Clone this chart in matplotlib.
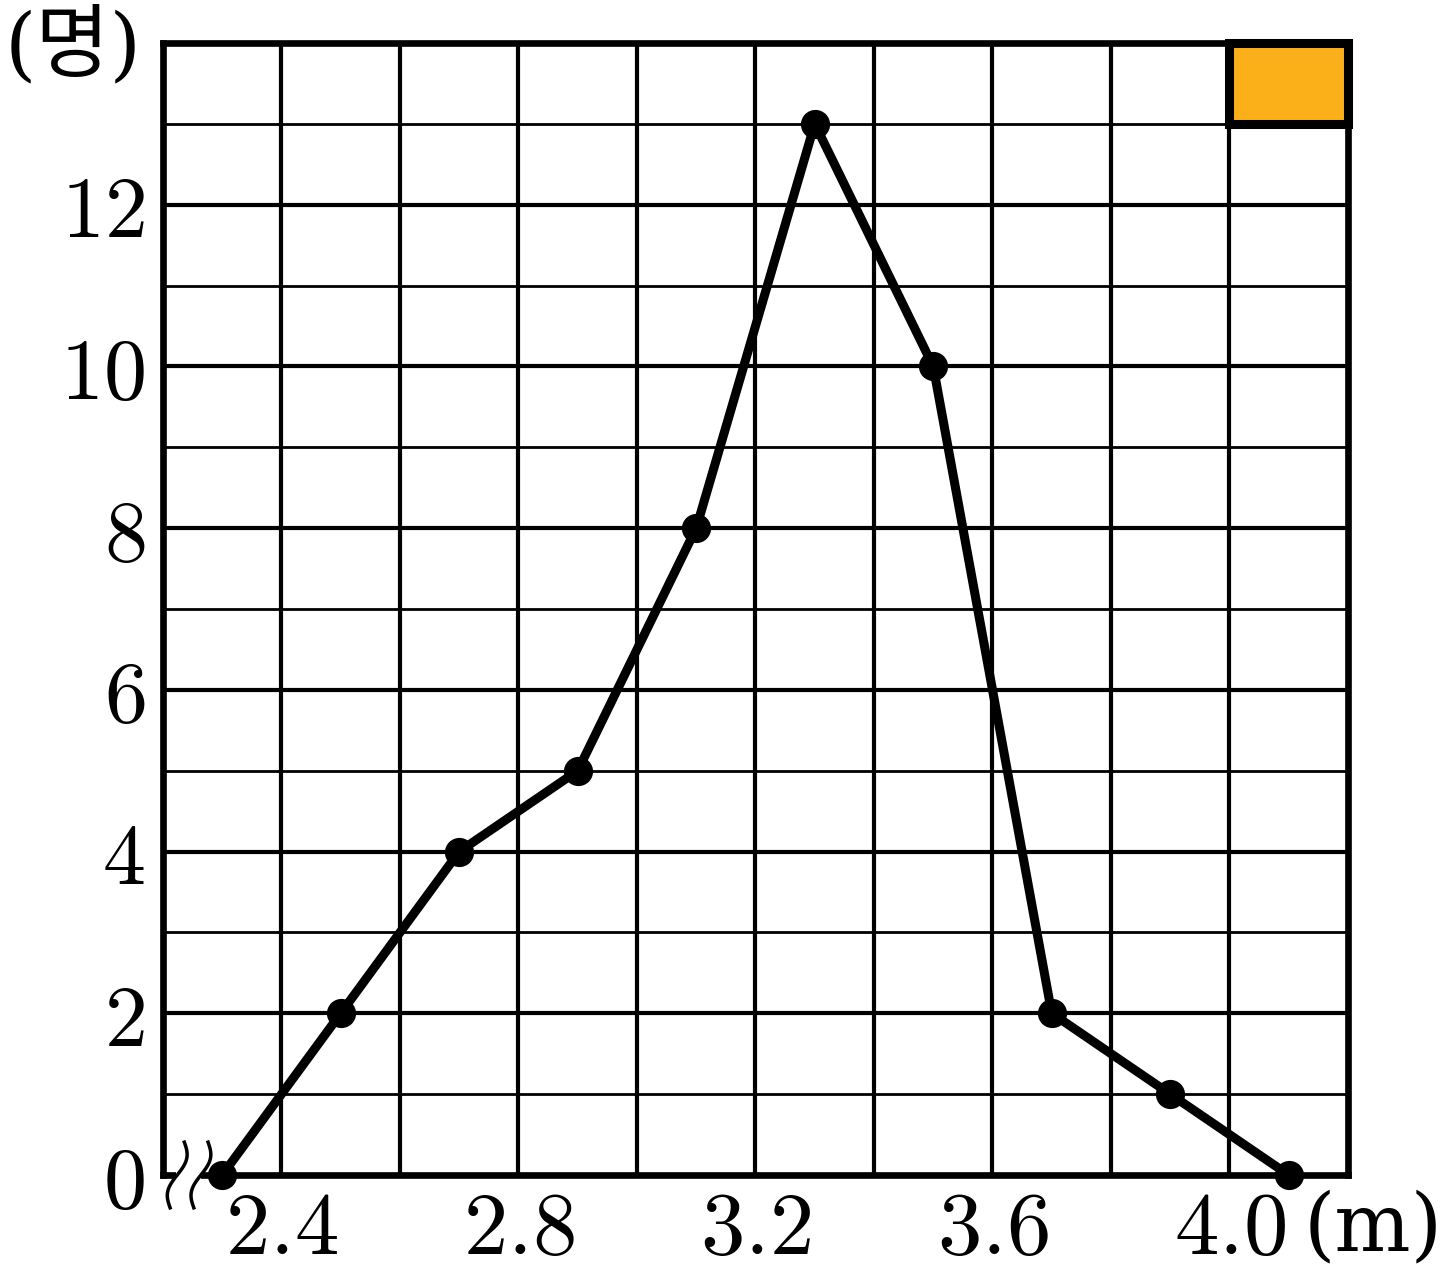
import numpy as np
import matplotlib.pyplot as plt
from matplotlib.patches import Rectangle

plt.rcParams['mathtext.fontset'] = 'cm'
plt.rcParams['font.family'] = ['DejaVu Serif', 'Noto Sans CJK KR']

# frequency polygon data (class midpoints, counts)
heights = [2.3, 2.5, 2.7, 2.9, 3.1, 3.3, 3.5, 3.7, 3.9, 4.1]
counts = [0, 2, 4, 5, 8, 13, 10, 2, 1, 0]

x_labels = ['2.4', '2.8', '3.2', '3.6', '4.0']
y_labels = [0, 2, 4, 6, 8, 10, 12]

fig = plt.figure(figsize=(14.46, 12.84), dpi=100)
ax = fig.add_axes([163 / 1446, 109 / 1284, 1185 / 1446, 1132 / 1284])

ax.set_xlim(2.2, 4.2)
ax.set_ylim(0, 14)

# grid
ax.set_xticks([float(v) for v in x_labels])
ax.set_xticklabels(['$%s$' % v for v in x_labels])
ax.set_xticks(np.arange(2.2, 4.21, 0.2), minor=True)
ax.set_yticks(y_labels)
ax.set_yticklabels(['$%d$' % v for v in y_labels])
ax.set_yticks(np.arange(0, 15, 1), minor=True)
ax.tick_params(which='both', length=0)
ax.tick_params(axis='x', labelsize=64, pad=8)
ax.tick_params(axis='y', labelsize=62, pad=13)
ax.grid(axis='x', which='both', color='black', lw=3.0)
ax.grid(axis='y', which='major', color='black', lw=3.0)
ax.grid(axis='y', which='minor', color='black', lw=2.0)
ax.set_axisbelow(True)
for s in ax.spines.values():
    s.set_linewidth(4.8)

ax.plot(heights, counts, color='black', lw=6.5, marker='o', markersize=20,
        clip_on=False, zorder=5)

# orange square top right
ax.add_patch(Rectangle((4.0, 13), 0.2, 1, facecolor='#FBB01A', edgecolor='black',
                       lw=6.5, clip_on=False, zorder=6))

# axis break mark near origin
ax.add_patch(Rectangle((0.011, -0.01), 0.021, 0.02, transform=ax.transAxes,
                       facecolor='white', edgecolor='none', clip_on=False, zorder=4))
t = np.linspace(-1, 1, 60)
for x0 in (0.012, 0.032):
    xs = x0 + 0.005 * np.sin(np.pi * t) + 0.006 * t
    ys = 0.029 * t
    ax.plot(xs, ys, color='black', lw=2.5, transform=ax.transAxes, clip_on=False, zorder=5)

fig.text(5 / 1446, 1 - 48 / 1284, '(명)', fontsize=58, va='center', ha='left')
fig.text(1304 / 1446, 1 - 1228 / 1284, '(m)', fontsize=58, va='center', ha='left',
         family='DejaVu Serif')

fig.savefig('out.png', dpi=100)
